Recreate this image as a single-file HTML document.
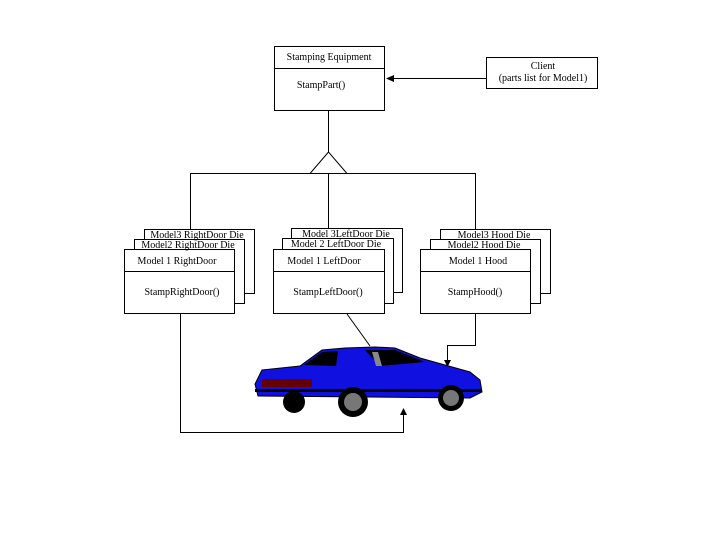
<!DOCTYPE html>
<html><head><style>
body{margin:0;background:#fff;}
svg text{font-family:"Liberation Serif",serif;font-size:10px;fill:#000;}
</style></head><body>
<svg width="720" height="540" viewBox="0 0 720 540" xmlns="http://www.w3.org/2000/svg">
<g fill="#fff" stroke="#000" stroke-width="1">
<!-- Stamping Equipment -->
<rect x="274.5" y="46.5" width="110" height="64"/>
<line x1="274" y1="68.5" x2="385" y2="68.5"/>
<!-- client -->
<rect x="486.5" y="57.5" width="111" height="31"/>
</g>
<text x="329" y="60" text-anchor="middle">Stamping Equipment</text>
<text x="321" y="88" text-anchor="middle">StampPart()</text>
<text x="543" y="69" text-anchor="middle">Client</text>
<text x="543" y="81" text-anchor="middle">(parts list for Model1)</text>
<line x1="486" y1="78.5" x2="392" y2="78.5" stroke="#000"/>
<polygon points="386,78.5 394,75 394,82" fill="#000"/>
<g stroke="#000" fill="none">
<line x1="328.5" y1="111" x2="328.5" y2="153"/>
<polygon points="328.5,152 310,173.5 347,173.5" fill="#fff"/>
<line x1="328.5" y1="173" x2="328.5" y2="229"/>
<line x1="190.5" y1="173.5" x2="475.5" y2="173.5"/>
<line x1="190.5" y1="173" x2="190.5" y2="229"/>
<line x1="475.5" y1="173" x2="475.5" y2="229"/>
</g>
<g fill="#fff" stroke="#000">
<rect x="144.5" y="229.5" width="110" height="64"/>
<rect x="134.5" y="239.5" width="110" height="64"/>
<rect x="124.5" y="249.5" width="110" height="64"/>
<line x1="124" y1="271.5" x2="235" y2="271.5"/>
<rect x="291.5" y="228.5" width="111" height="64"/>
<rect x="282.5" y="238.5" width="111" height="65"/>
<rect x="273.5" y="249.5" width="111" height="64"/>
<line x1="273" y1="271.5" x2="385" y2="271.5"/>
<rect x="440.5" y="229.5" width="110" height="64"/>
<rect x="430.5" y="239.5" width="110" height="64"/>
<rect x="420.5" y="249.5" width="110" height="64"/>
<line x1="420" y1="271.5" x2="531" y2="271.5"/>
</g>
<text x="197" y="238" text-anchor="middle">Model3 RightDoor Die</text>
<text x="188" y="248" text-anchor="middle">Model2 RightDoor Die</text>
<text x="177" y="264" text-anchor="middle">Model 1 RightDoor</text>
<text x="182" y="295" text-anchor="middle">StampRightDoor()</text>
<text x="346" y="237" text-anchor="middle">Model 3LeftDoor Die</text>
<text x="336" y="247" text-anchor="middle">Model 2 LeftDoor Die</text>
<text x="324" y="264" text-anchor="middle">Model 1 LeftDoor</text>
<text x="328" y="295" text-anchor="middle">StampLeftDoor()</text>
<text x="494" y="238" text-anchor="middle">Model3 Hood Die</text>
<text x="484" y="248" text-anchor="middle">Model2 Hood Die</text>
<text x="478" y="264" text-anchor="middle">Model 1 Hood</text>
<text x="475" y="295" text-anchor="middle">StampHood()</text>
<g stroke="#000" fill="none">
<polyline points="180.5,314 180.5,432.5 403.5,432.5 403.5,414"/>
<polyline points="475.5,314 475.5,345.5 447.5,345.5 447.5,362"/>
<line x1="347" y1="314" x2="370" y2="346"/>
</g>
<polygon points="403.5,408 400,415 407,415" fill="#000"/>
<polygon points="447.5,367 444,360 451,360" fill="#000"/>
<!-- car -->
<g>
<path d="M262,370 L300,366 L322,350 L345,348 L375,347 L395,348 L420,358 L445,365 L470,372 L480,380 L482,392 L470,398 L258,396 L255,384 Z" fill="#1010e0" stroke="#000"/>
<path d="M304,365 L322,352 L338,351 L336,366 Z" fill="#000"/>
<path d="M365,350 L395,350 L425,362 L380,366 Z" fill="#000"/>
<path d="M372,352 L378,352 L382,366 L376,366 Z" fill="#888"/>
<rect x="262" y="379" width="50" height="8" fill="#600"/>
<rect x="255" y="389" width="227" height="3" fill="#000"/>
<circle cx="294" cy="402" r="11" fill="#000"/>
<circle cx="353" cy="402" r="15" fill="#000"/>
<circle cx="353" cy="402" r="9" fill="#777"/>
<circle cx="451" cy="398" r="13" fill="#000"/>
<circle cx="451" cy="398" r="8" fill="#777"/>
</g>
</svg>
</body></html>
